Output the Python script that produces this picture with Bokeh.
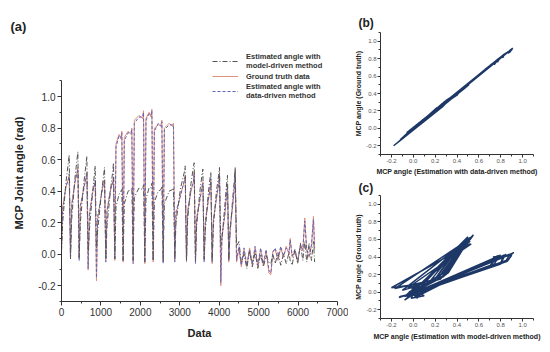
from bokeh.plotting import figure
from bokeh.layouts import row, column
from bokeh.models import Range1d, Legend, LegendItem, FixedTicker, PrintfTickFormatter
from bokeh.embed import file_html
from bokeh.resources import INLINE

# ---- data (key points) ----
t = [0, 30, 110, 173, 195,
     228, 258, 340, 393, 415,
     448, 478, 565, 621, 643,
     676, 706, 785, 832, 854,
     887, 917, 1010, 1069, 1091,
     1124, 1154, 1240, 1297, 1319,
     1352, 1382, 1460, 1508, 1530,
     1563, 1593, 1690, 1762, 1784,
     1817, 1847, 1965, 2058, 2080,
     2113, 2143, 2220, 2270, 2292,
     2325, 2355, 2455, 2524, 2546,
     2579, 2609, 2730, 2818, 2840,
     2873, 2903, 3020, 3115, 3137,
     3170, 3200, 3285, 3343, 3365,
     3398, 3428, 3510, 3563, 3585,
     3618, 3648, 3720, 3766, 3788,
     3821, 3851, 3930, 3985, 4007,
     4040, 4070, 4140, 4188, 4210,
     4243, 4273, 4340, 4383, 4405,
     4440, 4500, 4560, 4630, 4700, 4770, 4840, 4910, 4980, 5050, 5120,
     5190, 5260, 5310, 5360, 5420, 5490, 5560, 5630, 5700, 5770, 5800,
     5850, 5920, 5990, 6060, 6120, 6170, 6220, 6280, 6340, 6390, 6420]

ground_truth = [0.02, 0.30, 0.42, 0.48, 0.50,
                -0.03, 0.32, 0.45, 0.52, 0.55,
                -0.03, 0.30, 0.42, 0.48, 0.52,
                -0.10, 0.25, 0.38, 0.44, 0.46,
                -0.17, 0.22, 0.38, 0.45, 0.47,
                -0.04, 0.28, 0.40, 0.46, 0.48,
                -0.04, 0.70, 0.76, 0.73, 0.78,
                -0.05, 0.74, 0.78, 0.76, 0.80,
                -0.05, 0.85, 0.88, 0.86, 0.91,
                -0.06, 0.86, 0.90, 0.87, 0.92,
                -0.05, 0.80, 0.82, 0.82, 0.85,
                -0.05, 0.80, 0.83, 0.81, 0.83,
                -0.04, 0.25, 0.38, 0.46, 0.50,
                -0.05, 0.28, 0.40, 0.46, 0.52,
                -0.05, 0.22, 0.35, 0.42, 0.46,
                -0.04, 0.20, 0.33, 0.42, 0.47,
                -0.06, 0.22, 0.35, 0.45, 0.52,
                -0.20, 0.10, 0.25, 0.38, 0.44,
                -0.05, 0.15, 0.30, 0.42, 0.53,
                -0.05, 0.04, -0.08, 0.03, -0.08, 0.04, -0.07, 0.04, -0.08, 0.03, -0.07,
                0.02, -0.12, -0.13, 0.02, 0.03, -0.04, 0.04, -0.02, 0.05, 0.00, 0.10,
                -0.02, 0.02, -0.05, 0.06, 0.02, 0.23, 0.02, -0.02, 0.05, 0.24, 0.03]

data_driven = [0.03, 0.28, 0.43, 0.47, 0.51,
               -0.02, 0.30, 0.46, 0.51, 0.54,
               -0.04, 0.31, 0.41, 0.49, 0.51,
               -0.09, 0.24, 0.40, 0.43, 0.47,
               -0.15, 0.24, 0.37, 0.46, 0.46,
               -0.05, 0.27, 0.41, 0.45, 0.49,
               -0.03, 0.68, 0.75, 0.74, 0.77,
               -0.04, 0.72, 0.77, 0.77, 0.79,
               -0.06, 0.83, 0.87, 0.87, 0.90,
               -0.05, 0.85, 0.89, 0.88, 0.91,
               -0.04, 0.78, 0.83, 0.81, 0.84,
               -0.06, 0.79, 0.82, 0.82, 0.82,
               -0.05, 0.27, 0.37, 0.47, 0.49,
               -0.04, 0.26, 0.41, 0.45, 0.51,
               -0.06, 0.23, 0.34, 0.43, 0.45,
               -0.05, 0.21, 0.34, 0.41, 0.48,
               -0.05, 0.20, 0.36, 0.44, 0.51,
               -0.18, 0.12, 0.24, 0.39, 0.43,
               -0.04, 0.16, 0.31, 0.41, 0.52,
               -0.04, 0.05, -0.07, 0.04, -0.07, 0.03, -0.06, 0.05, -0.07, 0.04, -0.06,
               0.03, -0.10, -0.12, 0.01, 0.04, -0.03, 0.05, -0.01, 0.04, 0.01, 0.09,
               -0.01, 0.03, -0.04, 0.05, 0.03, 0.21, 0.03, -0.01, 0.06, 0.22, 0.04]

model_driven = [0.02, 0.20, 0.45, 0.58, 0.63,
                -0.03, 0.22, 0.48, 0.60, 0.65,
                -0.02, 0.20, 0.45, 0.57, 0.62,
                0.02, 0.15, 0.38, 0.50, 0.56,
                0.04, 0.15, 0.38, 0.50, 0.55,
                -0.03, 0.18, 0.40, 0.52, 0.58,
                -0.03, 0.30, 0.38, 0.40, 0.41,
                -0.04, 0.32, 0.40, 0.41, 0.42,
                -0.04, 0.36, 0.42, 0.41, 0.44,
                -0.05, 0.35, 0.42, 0.42, 0.45,
                -0.04, 0.33, 0.40, 0.41, 0.43,
                -0.04, 0.32, 0.40, 0.41, 0.42,
                -0.03, 0.20, 0.42, 0.52, 0.56,
                -0.04, 0.22, 0.45, 0.55, 0.58,
                -0.04, 0.18, 0.40, 0.50, 0.54,
                -0.03, 0.15, 0.38, 0.48, 0.52,
                -0.04, 0.18, 0.40, 0.50, 0.55,
                0.05, 0.10, 0.30, 0.45, 0.50,
                -0.04, 0.12, 0.35, 0.47, 0.55,
                0.05, 0.08, -0.05, 0.00, -0.09, 0.02, -0.08, 0.01, -0.09, 0.00, -0.08,
                -0.01, -0.05, -0.06, 0.00, -0.06, 0.01, -0.07, 0.00, -0.06, 0.01, -0.04,
                -0.07, 0.03, -0.06, 0.07, -0.04, 0.08, -0.05, 0.07, -0.04, 0.08, -0.05]

legend_labels = ["Estimated angle with\nmodel-driven method",
                 "Ground truth data",
                 "Estimated angle with\ndata-driven method"]
panel_labels = ["(a)", "(b)", "(c)"]

x_ticks = [0, 1000, 2000, 3000, 4000, 5000, 6000, 7000]
x_minor = [500, 1500, 2500, 3500, 4500, 5500, 6500]
y_ticks = [-0.2, 0.0, 0.2, 0.4, 0.6, 0.8, 1.0]
y_minor = [-0.3, -0.1, 0.1, 0.3, 0.5, 0.7, 0.9, 1.1]
s_ticks = [-0.2, 0.0, 0.2, 0.4, 0.6, 0.8, 1.0]
s_minor = [-0.3, -0.1, 0.1, 0.3, 0.5, 0.7, 0.9, 1.1]

FONT = "Liberation Sans"
GT_COLOR = "#e0907e"
DD_COLOR = "#6464b4"
MD_COLOR = "#555555"
NAVY = "#1d3866"


def style_axes(fig, tick_size, label_size, tmajor, tminor, xt, xm, yt, ym, tick_color, std):
    fig.xgrid.visible = False
    fig.ygrid.visible = False
    fig.outline_line_color = None
    fig.xaxis.ticker = FixedTicker(ticks=xt, minor_ticks=xm)
    fig.yaxis.ticker = FixedTicker(ticks=yt, minor_ticks=ym)
    for ax in (fig.xaxis[0], fig.yaxis[0]):
        ax.axis_line_color = "#333333"
        ax.major_tick_line_color = "#333333"
        ax.minor_tick_line_color = "#333333"
        ax.major_tick_out = tmajor
        ax.major_tick_in = 0
        ax.minor_tick_out = tminor
        ax.minor_tick_in = 0
        ax.major_label_text_font = FONT
        ax.major_label_text_font_size = tick_size
        ax.major_label_text_color = tick_color
        ax.axis_label_text_font = FONT
        ax.axis_label_text_font_size = label_size
        ax.axis_label_text_font_style = "bold"
        ax.axis_label_text_color = "#222222"
        ax.major_label_standoff = std


def style_title(fig, text, size, offset, standoff):
    fig.title.text = text
    fig.title.text_font = FONT
    fig.title.text_font_size = size
    fig.title.text_font_style = "bold"
    fig.title.text_color = "#222222"
    fig.title.align = "left"
    fig.title.offset = offset
    fig.title.standoff = standoff


# ---- (a) main time series ----
pa = figure(width=348, height=352, x_range=Range1d(0, 7000), y_range=Range1d(-0.3, 1.33),
            output_backend="svg", toolbar_location=None,
            min_border_left=61, min_border_right=11, min_border_top=44, min_border_bottom=51)
style_axes(pa, "10px", "11px", 4, 2, x_ticks, x_minor, y_ticks, y_minor, "#333333", 2)
pa.yaxis.bounds = (-0.3, 1.1)
pa.yaxis.formatter = PrintfTickFormatter(format="%.1f")
pa.xaxis.axis_label = "Data"
pa.yaxis.axis_label = "MCP Joint angle (rad)"
pa.xaxis.axis_label_standoff = 8
pa.yaxis.axis_label_standoff = 10
style_title(pa, panel_labels[0], "13px", -51, 22)

r_gt = pa.line(t, ground_truth, line_color=GT_COLOR, line_width=1)
r_dd = pa.line(t, data_driven, line_color=DD_COLOR, line_width=1, line_dash="3 2")
r_md = pa.line(t, model_driven, line_color=MD_COLOR, line_width=1, line_dash="5 2 1 2")

legend = Legend(items=[
    LegendItem(label=legend_labels[0], renderers=[r_md]),
    LegendItem(label=legend_labels[1], renderers=[r_gt]),
    LegendItem(label=legend_labels[2], renderers=[r_dd]),
], location=(151, 201), label_text_font=FONT, label_text_font_size="7.5px",
    label_text_font_style="bold", label_text_color="#333333", glyph_width=26,
    glyph_height=10, label_standoff=8, spacing=1, padding=0, margin=0,
    background_fill_alpha=0, border_line_color=None)
pa.add_layout(legend)

# ---- (b) data-driven vs ground truth ----
pb = figure(frame_width=153, frame_height=122, x_range=Range1d(-0.3, 1.1),
            y_range=Range1d(-0.3, 1.1), output_backend="svg", toolbar_location=None,
            min_border_left=32, min_border_right=17, min_border_top=32, min_border_bottom=24)
style_axes(pb, "6px", "7px", 3, 2, s_ticks, s_minor, s_ticks, s_minor, "#555555", 1)
pb.xaxis.formatter = PrintfTickFormatter(format="%.1f")
pb.yaxis.formatter = PrintfTickFormatter(format="%.1f")
pb.xaxis.axis_label = "MCP angle (Estimation with data-driven method)"
pb.yaxis.axis_label = "MCP angle (Ground truth)"
pb.xaxis.axis_label_standoff = 2
pb.yaxis.axis_label_standoff = 1
style_title(pb, panel_labels[1], "12px", -22, 5)
pb.line(data_driven, ground_truth, line_color=NAVY, line_width=1.5)

# ---- (c) model-driven vs ground truth ----
pc = figure(frame_width=153, frame_height=123, x_range=Range1d(-0.3, 1.1),
            y_range=Range1d(-0.3, 1.1), output_backend="svg", toolbar_location=None,
            min_border_left=32, min_border_right=17, min_border_top=15, min_border_bottom=34)
style_axes(pc, "6px", "7px", 3, 2, s_ticks, s_minor, s_ticks, s_minor, "#555555", 1)
pc.xaxis.formatter = PrintfTickFormatter(format="%.1f")
pc.yaxis.formatter = PrintfTickFormatter(format="%.1f")
pc.xaxis.axis_label = "MCP angle (Estimation with model-driven method)"
pc.yaxis.axis_label = "MCP angle (Ground truth)"
pc.xaxis.axis_label_standoff = 3
pc.yaxis.axis_label_standoff = 1
style_title(pc, panel_labels[2], "12px", -22, 1)
pc.line(ground_truth, model_driven, line_color=NAVY, line_width=1.5)

layout = row(pa, column(pb, pc))
open("out.html", "w").write(file_html(layout, INLINE))
